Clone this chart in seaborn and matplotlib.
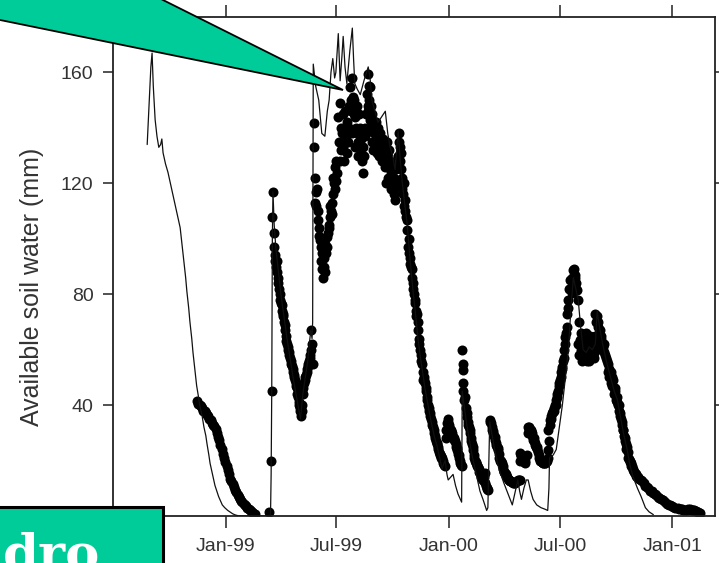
import pandas as pd
import matplotlib
matplotlib.use("Agg")
import matplotlib.pyplot as plt
from matplotlib.patches import Polygon, Rectangle
import seaborn as sns

# Simulated available soil water (days after 1 Jan 1999, mm)
sim_day = [-129, -126, -123, -121, -119, -116, -113, -110, -107, -105, -103, -99, -95, -90,
           -84, -79, -75, -72, -69, -66, -64, -61, -59, -56, -54, -51, -48, -45, -43, -39,
           -36, -33, -31, -28, -26, -23, -21, -18, -15, -12, -10, -6, -2, 3, 7, 11, 15, 20,
           25, 40, 55, 70, 73, 74, 75, 76, 77, 79, 82, 86, 90, 95, 100, 105, 110, 114, 118,
           122, 126, 130, 134, 137, 139, 141, 142, 143, 147, 152, 157, 162, 166, 169, 172,
           175, 178, 180, 184, 187, 190, 192, 195, 198, 203, 207, 209, 211, 215, 220, 226,
           233, 236, 239, 244, 249, 255, 261, 265, 269, 273, 277, 280, 282, 285, 288, 292,
           297, 301, 306, 310, 314, 318, 322, 326, 331, 336, 341, 346, 350, 354, 357, 359,
           362, 364, 368, 372, 376, 380, 384, 386, 387, 390, 395, 399, 403, 409, 416, 421,
           427, 429, 432, 436, 440, 447, 455, 462, 469, 474, 478, 481, 484, 488, 492, 495,
           499, 503, 509, 516, 522, 527, 529, 530, 536, 541, 546, 551, 556, 561, 565, 569,
           573, 577, 581, 585, 590, 595, 600, 605, 608, 612, 617, 624, 630, 636, 641, 646,
           651, 657, 662, 667, 674, 680, 687, 693, 700]
sim_mm = [134, 148, 162, 167, 155, 143, 137, 133, 134, 136, 131, 127, 124, 119,
          113, 108, 104, 98, 92, 86, 81, 75, 70, 64, 59, 53, 47, 43, 40, 36,
          32, 29, 26, 22, 19, 16, 14, 11, 9, 7, 6, 4, 3, 2, 1.4, 0.8, 0.4, 0.1,
          0, 0, 0, 0, 0.5, 15, 45, 100, 117, 105, 96, 88, 80, 72, 64, 57, 50, 45, 40,
          35, 44, 50, 56, 63, 67, 64, 70, 163, 155, 150, 138, 137, 146, 150, 160,
          165, 158, 160, 174, 157, 166, 173, 162, 156, 168, 176, 165, 156, 154, 152, 157,
          162, 158, 150, 146, 142, 144, 146, 138, 133, 130, 125, 133, 139, 130, 122, 114,
          105, 94, 82, 74, 65, 58, 52, 46, 40, 34, 29, 25, 21, 17, 19, 20,
          15, 13, 14, 15, 11, 8, 6, 5, 45, 40, 32, 27, 22, 16, 9, 6,
          2, 3, 34, 29, 24, 17, 12, 8, 4, 9, 13, 9, 6, 10, 13, 13,
          9, 6, 4, 3, 2.5, 2, 10, 21, 22, 24, 32, 40, 50, 60, 75, 86,
          82, 78, 68, 60, 59, 61, 60, 62, 74, 68, 62, 55, 50, 45, 42, 36,
          30, 24, 18, 14, 10, 7, 3, 1.5, 0.5]

# Measured available soil water (days after 1 Jan 1999, mm)
obs_day = [-47, -45, -43, -41, -39, -37, -35, -33, -31, -29, -27, -25, -23, -21, -19, -17,
           -15, -13, -11, -9, -7, -5, -3, -1, 1, 3, 5, 7, 9, 11, 13, 15, 17, 19, 21, 23,
           25, 27, 29, 31, 33, 35, 37, 39, 41, 43, 45, 47,
           70, 74, 75, 76, 77, 78, 79, 80, 82, 84, 85, 86, 88, 90, 92, 94, 96, 98, 100,
           102, 104, 106, 108, 110, 112, 114, 116, 118, 120, 122, 123, 125, 126, 128, 130,
           132, 134, 136, 138, 139, 140, 141, 142,
           81, 83, 87, 89, 91, 93, 95, 97, 99, 101, 103, 105, 107, 109, 111, 113, 115, 117,
           119, 121, 124, 127, 129, 131, 133, 135, 137,
           144, 145, 146, 146.5, 147, 148, 150, 151, 153, 154, 156, 158, 159, 160, 162, 164,
           166, 167, 168, 170, 172, 173, 175, 177, 179, 182, 184, 185, 187, 188, 190, 191,
           192, 194, 196, 198, 199, 201, 203, 205, 207, 208, 209, 211, 213, 215, 217, 218,
           220, 222, 223, 225, 227, 229, 231, 233, 233, 235, 236, 236, 238, 240, 242, 244,
           246, 248, 250, 252, 254, 256, 257, 259, 261, 263, 264, 266, 268, 269, 271, 272,
           274, 276, 277, 279, 281, 283, 285, 285, 287, 288, 290, 292, 294, 297, 298, 300,
           302, 304, 306, 308, 310, 312, 313, 315, 317, 318, 320, 321, 323, 324, 326, 328,
           329, 331, 333, 335, 338, 340, 343, 346, 348, 351, 354, 356, 358,
           149, 152, 155, 157, 161, 163, 165, 169, 171, 174, 176, 178, 180, 181,
           186, 189, 193, 195, 197, 200, 202, 204, 206, 210, 212, 214, 216, 219, 221, 224,
           226, 228, 230, 232, 234, 237, 239, 241, 243, 245, 247, 249, 251, 253, 255, 258,
           260, 262, 265, 267, 270, 273, 275, 278, 280, 282, 284, 286, 289, 291, 293, 295,
           296, 299, 301, 303, 305, 307, 309, 311, 314, 316, 319, 322, 325, 327, 330, 332,
           334, 336, 337, 339, 341, 342, 344, 345, 347, 349, 350, 352, 353, 355, 357,
           360, 362, 364, 367, 370, 372, 375, 379, 382, 384, 386, 387, 387.5, 388, 388.5,
           389, 390, 393, 395, 398, 400, 403, 405, 408, 411, 413, 416, 418, 421, 424, 426,
           429, 432, 434, 436, 438, 441, 444, 446, 449, 452, 455, 457, 460, 463, 466, 470,
           474, 478, 482, 482, 485, 487, 490, 493, 495, 498, 502, 503, 506, 510, 512, 515,
           518, 520, 523, 526, 528, 528, 531, 534, 536, 540, 543, 545, 547, 549, 551, 552,
           554, 556, 558, 559, 561, 562, 564, 566, 567, 569, 571, 573, 575, 577, 578, 580,
           582, 585, 587, 589, 590, 592, 594, 596, 598, 600, 602, 604, 605, 606, 608, 610,
           613, 615, 618, 621, 624, 627, 629, 632, 634, 637, 641, 643, 646, 648, 651, 654,
           657, 659, 662, 665, 667, 671, 675, 679, 684, 690, 695, 700, 705, 710, 716, 722,
           728, 733, 740, 745, 749, 755, 760, 765, 770, 777,
           361, 363, 365, 366, 368, 369, 371, 373, 374, 376, 377, 378, 380, 381, 383, 385,
           391, 394, 396, 397, 399, 401, 402, 404, 406, 407, 409, 410, 412, 414, 415, 417,
           419, 420, 422, 423, 425, 427, 428, 433, 435, 437, 439, 440, 442, 443, 445, 447,
           448, 450, 451, 453, 454, 456, 458, 459, 461, 462, 464, 465, 467, 468, 472, 476,
           480, 481, 483, 484, 486, 488, 489, 494, 496, 497, 499, 500, 501, 504, 505, 507,
           508, 509, 511, 513, 514, 516, 517, 519, 521, 522, 524, 525, 527, 529, 530, 532,
           533, 535, 537, 538, 539, 541, 542, 544, 546, 548, 550, 553, 555, 557, 560,
           568, 570, 572, 574, 576, 579, 581, 583, 584, 586, 588, 591, 593, 595, 597, 599,
           601, 603, 607, 609, 611, 612, 614, 616, 619, 620, 622, 625, 626, 628, 630, 631,
           633, 635, 636, 638, 639, 640, 642, 644, 645, 647, 649, 650, 652, 653, 655, 656,
           658, 660, 661, 663, 664, 666, 668, 670, 672, 674, 677, 681, 687, 692, 697, 702,
           707, 713, 719, 725, 731, 736, 742, 747, 752, 757, 762, 767, 773]
obs_mm = [41.5, 40.5, 40, 39.5, 39, 38, 38, 37, 36.5, 36, 35, 34.5, 33.5, 33, 32.5, 31.5,
          30, 28.5, 27.5, 25.5, 24, 22.5, 21, 19.5, 18, 16.5, 15, 13.5, 12.5, 11.5, 10.5, 9.5,
          8.5, 7.5, 7, 6, 5.5, 5, 4.5, 4, 3.5, 3, 2.5, 2, 1.7, 1.3, 1, 0.7,
          1.5, 20, 45, 108, 117, 102, 97, 94, 90, 92, 86, 84, 80, 77, 74, 72, 69, 65, 62,
          60, 58, 56, 54, 52, 50, 48, 46, 43, 40, 38, 36, 40, 46, 48, 50,
          52, 54, 56, 58, 67, 60, 62, 55,
          92, 88, 82, 78, 76, 73, 70, 67, 63, 61, 59, 57, 55, 53, 51, 49, 47, 44,
          41, 39, 38, 44, 49, 51, 53, 55, 57,
          141.6, 133, 122, 113, 117, 112, 110, 106.7, 104, 99.5, 97, 94.8, 86, 90, 88, 95,
          100.5, 102, 105, 108, 110, 109, 116, 120, 125.8, 123.6, 143.8, 135, 149, 140, 138, 145,
          133, 140, 135, 131, 142, 148, 154.6, 150, 158, 151, 145, 143.8, 140, 138, 135, 145,
          133, 130, 128, 123.6, 137, 145, 152.4, 159.6, 146, 150, 154.6, 142.7, 140, 145, 138, 140,
          136, 138, 134, 136.6, 132, 134, 130.8, 128, 125.8, 130, 135, 122, 126, 128, 124, 120,
          118.6, 116, 114, 125, 130, 135, 133, 128, 125, 122, 116, 112, 110, 106.7, 97, 95,
          91, 89, 84, 80, 76.8, 72, 73, 67, 62, 60, 56, 55, 49, 50, 48, 45,
          43, 40, 38, 36, 33, 31, 28, 26, 24, 22, 21, 19, 18,
          118, 101, 92, 89, 93, 98, 97, 104, 112, 113, 122, 118, 128, 121,
          128, 132, 128, 146, 137, 135, 140, 146, 138, 150, 133, 148, 130, 140, 136, 133,
          130, 140, 138, 148, 155, 148, 135, 132, 135, 142, 131, 140, 130, 138, 128, 136,
          132, 120, 128, 132, 118, 126, 122, 119, 120, 126, 138, 131, 118, 120, 114, 108,
          103, 100, 93, 90, 86, 82, 78, 74, 70, 64, 58, 52, 49, 46, 42, 39,
          37, 35, 34, 32, 30, 29, 27, 26.5, 25, 23, 22.5, 21.5, 21, 20, 18.5,
          28, 33.5, 34, 31, 30, 28.5, 27, 23.8, 21, 19, 18, 60, 55, 52.6, 48,
          45, 42, 39, 35.7, 32, 30, 26, 23.8, 20, 18.5, 17.7, 15.5, 14, 13, 15.5, 11,
          9.4, 34.6, 33.5, 31, 30, 28.5, 25, 23.8, 20, 19, 16, 15.5, 14, 13, 12.5, 12,
          12, 13, 13, 22.7, 21, 20, 19, 22, 32, 31, 30, 27.4, 26.3, 25, 22, 20,
          19.5, 19, 19, 20, 23.8, 31, 34.6, 37, 38, 40, 44, 47, 49, 52, 53.7, 56,
          60, 64.5, 68, 73, 78, 82, 85, 86, 80.4, 88.6, 86, 82, 81.5, 77.8, 70, 63.4,
          60, 58.7, 64, 60, 66, 56, 62, 58, 64, 60, 58.7, 65, 73, 70, 61, 68,
          67, 64, 61, 58, 56, 53, 51.5, 50, 49, 46, 43, 40, 37, 34, 31, 28,
          25, 21, 20, 18, 16.6, 15, 14, 13, 12, 10.5, 9, 8.3, 7.5, 6.5, 5.8, 4.5,
          3.8, 3.2, 2.8, 2.5, 2.2, 2.3, 2.5, 2.2, 1.8, 1,
          31, 35, 33, 32, 30.5, 31, 29, 28, 27.5, 26, 25, 24.5, 22.5, 22, 20, 18.5,
          43, 37, 34, 33, 31, 28, 27, 25, 22, 21, 19, 19.5, 18, 17, 16, 15,
          14, 13.5, 12.5, 14, 12, 10, 9.8, 34, 32, 30.5, 29, 27.5, 26.5, 25.5, 24.5, 22.5,
          21, 20, 19.5, 18, 17, 16, 15, 14.5, 14, 13.5, 13, 12.8, 12.5, 12.2, 12, 12.5,
          13, 20, 22, 21.5, 20.5, 19.5, 20, 30, 32, 31.5, 30.5, 31, 29, 28, 27, 25.5,
          25, 24, 23, 21, 20.5, 20, 19.5, 19, 19.5, 19, 19.5, 20, 21, 27, 33, 35,
          36, 37.5, 38, 39, 40, 42, 43, 45, 48, 50, 53, 57, 62, 66, 75,
          84, 89, 87, 84, 62, 58, 66, 56, 64, 61, 57, 63, 60, 56, 65, 59,
          62, 57, 72, 70, 66, 62, 65, 60, 59, 62, 57, 55, 52, 50, 52, 48,
          47, 46, 44, 45, 42, 41, 40, 38, 36, 35, 33, 31, 29, 27, 26, 24,
          23, 20.5, 19.5, 19, 18, 17, 16, 15.5, 14.5, 14, 13.5, 12.5, 11, 10, 9, 8,
          7, 6, 5, 4, 3.5, 3, 2.6, 2.4, 2.2, 2.4, 2.3, 2, 1.5]

tick_dates = ["1999-01-01", "1999-07-01", "2000-01-01", "2000-07-01", "2001-01-01"]
tick_labels = ["Jan-99", "Jul-99", "Jan-00", "Jul-00", "Jan-01"]
y_ticks = [40, 80, 120, 160]

origin = pd.Timestamp("1999-01-01")
sim = pd.DataFrame({"date": origin + pd.to_timedelta(sim_day, unit="D"), "mm": sim_mm})
obs = pd.DataFrame({"date": origin + pd.to_timedelta(obs_day, unit="D"), "mm": obs_mm})

sns.set_theme(style="ticks")
plt.rcParams["font.family"] = ["Liberation Sans", "DejaVu Sans"]

W, H = 719, 563
fig = plt.figure(figsize=(W / 100, H / 100), dpi=100)
fig.patch.set_facecolor("white")
ax = fig.add_axes([113 / W, 1 - 516 / H, 602 / W, 499 / H])
ax.set_facecolor("white")

sns.scatterplot(data=obs, x="date", y="mm", ax=ax, color="black", s=52,
                linewidth=0, zorder=2, legend=False)
sns.lineplot(data=sim, x="date", y="mm", ax=ax, color="#111111", linewidth=0.9,
             estimator=None, sort=False, zorder=3, legend=False)

ax.set_xlim(pd.Timestamp("1998-06-30"), pd.Timestamp("2001-03-12"))
ax.set_ylim(0, 180)
ax.set_xticks(pd.to_datetime(tick_dates))
ax.set_xticklabels(tick_labels)
ax.set_yticks(y_ticks)
ax.set_yticklabels([str(v) for v in y_ticks])
ax.set_xlabel("")
ax.set_ylabel("Available soil water (mm)", fontsize=18, color="#333333", va="center")
ax.yaxis.set_label_coords((32 - 113) / 602, (516 - 287) / 499)

ax.tick_params(axis="both", which="major", direction="out", top=True, right=True,
               labeltop=False, labelright=False, width=1.1, color="#222222",
               labelsize=14, labelcolor="#333333", pad=7)
ax.tick_params(axis="x", length=8.5)
ax.tick_params(axis="y", length=7)
for sp in ax.spines.values():
    sp.set_linewidth(1.3)
    sp.set_color("#222222")
    sp.set_visible(True)

green = "#00CC99"


def fx(px):
    return px / W


def fy(py):
    return 1 - py / H


# Callout pointing at the mid-1999 maximum
callout = Polygon([(fx(-20), fy(15.9)), (fx(343), fy(90)), (fx(123), fy(-20)), (fx(-20), fy(-20))],
                  closed=True, transform=fig.transFigure, facecolor=green,
                  edgecolor="black", linewidth=1.3, zorder=10)
fig.add_artist(callout)

# Title box in the lower-left corner
box = Rectangle((fx(-10), fy(600)), fx(173), fy(507) - fy(600), transform=fig.transFigure,
                facecolor=green, edgecolor="black", linewidth=2.2, zorder=10)
fig.add_artist(box)
fig.text(fx(3), fy(570), "dro", color="white", fontsize=37, fontweight="bold",
         family="DejaVu Serif", ha="left", va="baseline", zorder=11)

fig.savefig("out.png", dpi=100)
